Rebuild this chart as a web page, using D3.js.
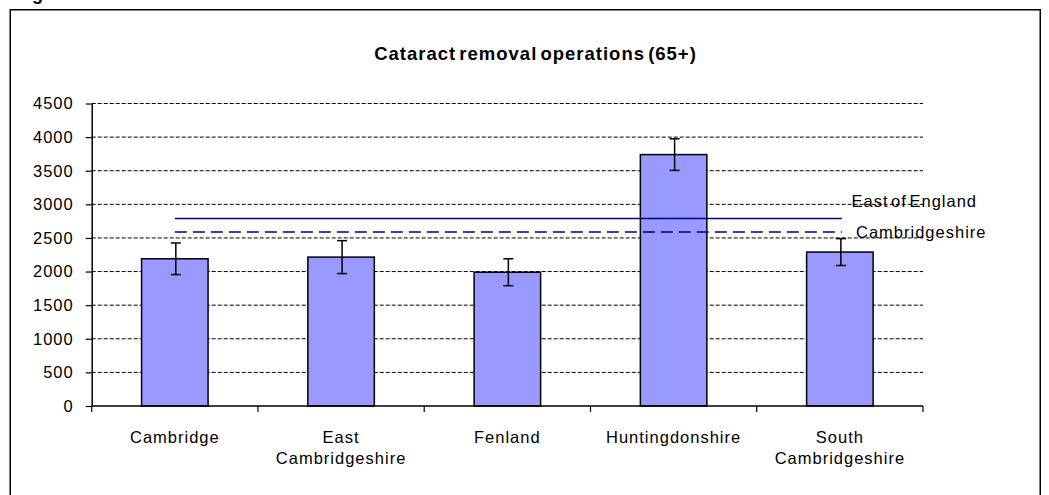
<!DOCTYPE html>
<html>
<head>
<meta charset="utf-8">
<script src="https://cdn.jsdelivr.net/npm/d3@7"></script>
<style>
  html, body { margin: 0; padding: 0; background: #fff; }
  svg { display: block; font-family: "Liberation Sans", Arial, sans-serif; }
</style>
</head>
<body>
<svg id="chart" width="1049" height="495"></svg>
<script>
// Cataract removal operations (65+) by district, with 95% intervals
const categories = [["Cambridge"], ["East", "Cambridgeshire"], ["Fenland"], ["Huntingdonshire"], ["South", "Cambridgeshire"]];
const values = [2190, 2215, 1990, 3740, 2290];
const errors = [235, 245, 200, 235, 200];
const yTicks = [0, 500, 1000, 1500, 2000, 2500, 3000, 3500, 4000, 4500];
const referenceNames = ["East of England", "Cambridgeshire"];
const referenceValues = [2790, 2590];

const svg = d3.select("#chart");
const keys = categories.map(c => c.join(" "));

const plotLeft = 91.7, plotRight = 923, plotTop = 103.5, plotBottom = 406;

const x = d3.scaleBand().domain(keys).range([plotLeft, plotRight]).paddingInner(0.6).paddingOuter(0.3);
const y = d3.scaleLinear().domain([0, 4500]).range([plotBottom, plotTop]);

// Page heading, mostly clipped by the top edge
svg.append("text")
  .attr("x", 16).attr("y", -0.5)
  .attr("font-size", 18).attr("font-weight", "bold")
  .text("Figure 3");

// Outer frame
svg.append("path")
  .attr("d", "M10.25,497 V9.75 H1040.25 V497")
  .attr("fill", "none").attr("stroke", "#000").attr("stroke-width", 1.5);

// Title
svg.append("text")
  .attr("x", 535.5).attr("y", 59.5)
  .attr("text-anchor", "middle")
  .attr("font-size", 18.5).attr("font-weight", "bold")
  .attr("letter-spacing", 1).attr("word-spacing", -3)
  .text("Cataract removal operations (65+)");

// Dashed gridlines
svg.append("g").selectAll("line").data(yTicks.filter(d => d > 0)).join("line")
  .attr("x1", plotLeft).attr("x2", plotRight)
  .attr("y1", d => y(d)).attr("y2", d => y(d))
  .attr("stroke", "#000").attr("stroke-width", 1).attr("stroke-dasharray", "4,2");

// Y axis
const yAxis = svg.append("g")
  .attr("transform", `translate(${plotLeft},0)`)
  .call(d3.axisLeft(y).tickValues(yTicks).tickFormat(d3.format("d"))
    .tickSize(6).tickPadding(13).tickSizeOuter(0));
yAxis.select(".domain").attr("stroke-width", 1.5);
yAxis.selectAll(".tick line").attr("stroke-width", 1.2);
yAxis.selectAll(".tick text")
  .attr("font-size", 16.5).attr("font-family", "Liberation Sans, Arial, sans-serif")
  .attr("letter-spacing", 1).attr("fill", "#000").attr("dx", "1");

// Bars
svg.append("g").selectAll("rect").data(values).join("rect")
  .attr("x", (d, i) => x(keys[i]))
  .attr("y", d => y(d))
  .attr("width", x.bandwidth())
  .attr("height", d => y(0) - y(d))
  .attr("fill", "#9999ff").attr("stroke", "#000").attr("stroke-width", 1.5);

// Error bars
const eg = svg.append("g").attr("stroke", "#000").attr("stroke-width", 1.5);
values.forEach((v, i) => {
  const cx = x(keys[i]) + x.bandwidth() / 2 + 1;
  eg.append("line").attr("x1", cx).attr("x2", cx).attr("y1", y(v + errors[i])).attr("y2", y(v - errors[i]));
  eg.append("line").attr("x1", cx - 5).attr("x2", cx + 5).attr("y1", y(v + errors[i])).attr("y2", y(v + errors[i]));
  eg.append("line").attr("x1", cx - 5).attr("x2", cx + 5).attr("y1", y(v - errors[i])).attr("y2", y(v - errors[i]));
});

// Reference lines from first to last district centre
const firstC = x(keys[0]) + x.bandwidth() / 2;
const lastC = x(keys[keys.length - 1]) + x.bandwidth() / 2 + 2;
svg.append("g").selectAll("line").data(referenceValues).join("line")
  .attr("x1", firstC).attr("x2", lastC)
  .attr("y1", d => y(d)).attr("y2", d => y(d))
  .attr("stroke", "#000080").attr("stroke-width", 1.5)
  .attr("stroke-dasharray", (d, i) => i === 0 ? null : "12,6");

// Reference line labels
svg.append("g").selectAll("text").data(referenceNames).join("text")
  .attr("x", (d, i) => i === 0 ? 851.5 : 856)
  .attr("y", (d, i) => y(referenceValues[i]) + (i === 0 ? -11 : 6.5))
  .attr("font-size", 16.5).attr("letter-spacing", 1).attr("word-spacing", -3)
  .text(d => d);

// X axis line and category boundary ticks
svg.append("line")
  .attr("x1", plotLeft).attr("x2", plotRight).attr("y1", plotBottom).attr("y2", plotBottom)
  .attr("stroke", "#000").attr("stroke-width", 1.5);
svg.append("g").selectAll("line").data(d3.range(keys.length + 1)).join("line")
  .attr("x1", i => plotLeft + i * x.step()).attr("x2", i => plotLeft + i * x.step())
  .attr("y1", plotBottom).attr("y2", plotBottom + 6)
  .attr("stroke", "#000").attr("stroke-width", 1.2);

// Category labels
const lab = svg.append("g").selectAll("text").data(categories).join("text")
  .attr("x", (d, i) => x(keys[i]) + x.bandwidth() / 2)
  .attr("y", 443)
  .attr("text-anchor", "middle")
  .attr("font-size", 16.5).attr("letter-spacing", 1);
lab.selectAll("tspan").data(d => d).join("tspan")
  .attr("x", function () { return d3.select(this.parentNode).attr("x"); })
  .attr("dy", (d, j) => j === 0 ? 0 : 20.5)
  .text(d => d);
</script>
</body>
</html>
